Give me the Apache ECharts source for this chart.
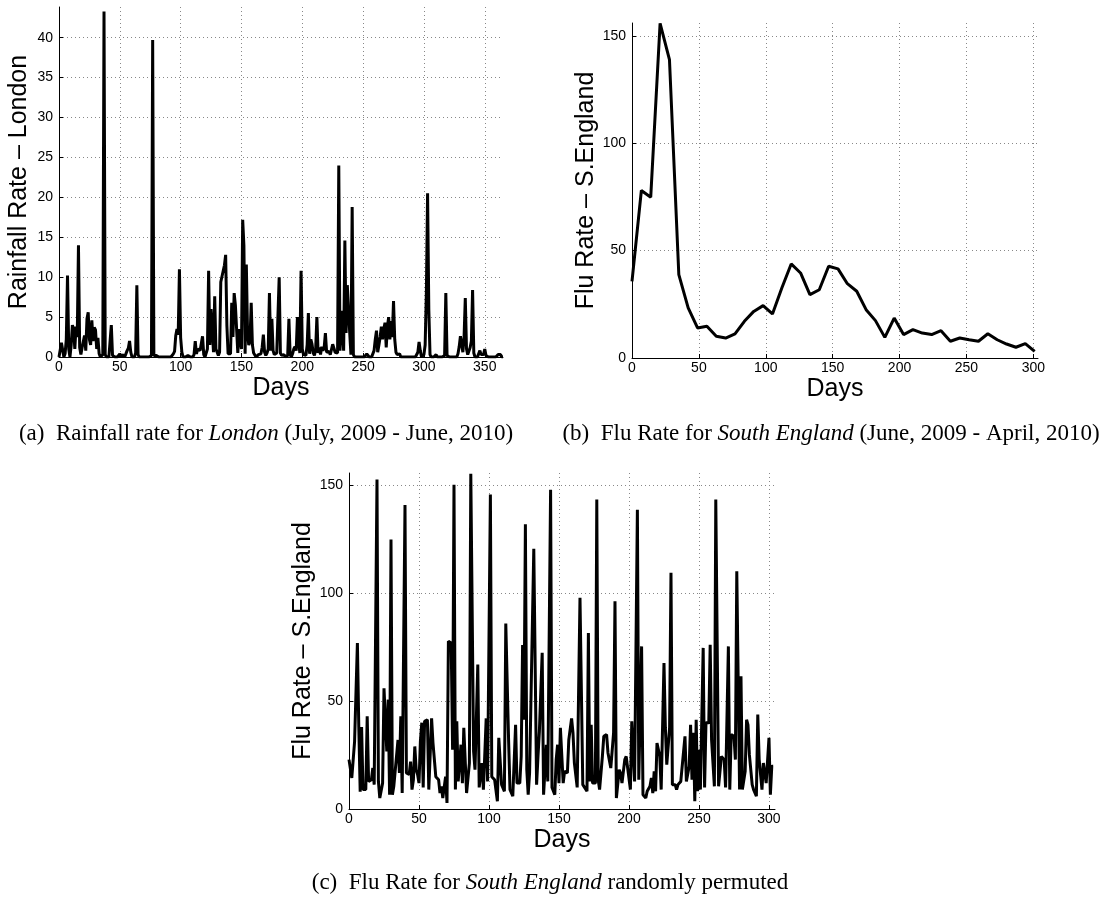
<!DOCTYPE html>
<html>
<head>
<meta charset="utf-8">
<script src="https://cdn.jsdelivr.net/npm/echarts@6/dist/echarts.min.js"></script>
<style>
  html, body { margin: 0; padding: 0; background: #fff; }
  #chart { width: 1106px; height: 897px; }
</style>
</head>
<body>
<div id="chart"></div>
<script>
// (a) daily rainfall, London, day 0..365
const rainVals = [
  0, 0.2, 1.8, 1.6, 0, 0.4, 2.2, 10.2, 1, 0,
  1.5, 4, 3.5, 1, 3.8, 2.5, 14, 1.2, 0.3, 1.2,
  1.1, 2.7, 0.8, 4.8, 5.6, 2.2, 1.5, 4.6, 2, 3.7,
  3.4, 1, 2.4, 0.4, 0, 0, 0.3, 43.3, 0.3, 0,
  0, 0, 0.2, 4, 0.2, 0, 0, 0, 0, 0,
  0.4, 0, 0.3, 0.2, 0, 0, 0.8, 1.1, 2, 0.6,
  0, 0, 0, 0.5, 9, 0.3, 0, 0, 0, 0,
  0, 0, 0, 0, 0, 0, 0.2, 39.7, 0.2, 0,
  0.2, 0.2, 0, 0, 0, 0, 0, 0, 0, 0,
  0, 0, 0, 0, 0.4, 0.7, 2.7, 3.5, 2.8, 11,
  2.4, 0.6, 0, 0, 0, 0.2, 0.2, 0, 0, 0,
  0, 0.3, 2, 0.4, 1, 1.2, 0.8, 1, 2.6, 0.3,
  0, 0.2, 1, 10.8, 1.5, 6, 3.5, 0.6, 7.6, 1,
  0.8, 0.2, 0.6, 9.4, 9.2, 10.8, 11.5, 12.8, 4, 0.4,
  0.2, 0.4, 6.8, 2.5, 8, 6.5, 3.5, 0.5, 3.5, 3.4,
  1, 17.2, 14, 0.4, 11.6, 3, 1.5, 2, 6.8, 1.5,
  0.5, 0.3, 0, 0, 0.3, 0.5, 0.4, 1.2, 2.8, 0.6,
  0.2, 0.5, 1, 8, 0.8, 4.8, 0.8, 0.3, 0.2, 0.5,
  0.3, 10, 0.5, 0.2, 0, 0.3, 0, 0, 0.2, 4.8,
  0.3, 0, 0.4, 1, 1.3, 0.8, 5, 2, 0.5, 10.8,
  1, 0.3, 0.5, 0.2, 1.5, 5.5, 0.4, 2.2, 1.6, 0.5,
  0.2, 1, 5, 0.5, 1.2, 0.3, 1.3, 0.8, 1.2, 3,
  0.6, 0.4, 0.7, 0.3, 0.2, 1.6, 1.4, 0.6, 0.8, 0.5,
  24, 0.8, 5.8, 3, 0.8, 14.6, 3, 9, 8.8, 3,
  0.3, 18.8, 0.3, 0, 0, 0, 0, 0, 0, 0,
  0, 0, 0.2, 0.4, 0.2, 0, 0, 0, 0, 0.8,
  2.2, 3.3, 0.6, 1.5, 2.5, 3.8, 2.2, 3.5, 4.3, 1.2,
  3.8, 5, 2.2, 4.5, 2.5, 7, 2.2, 0.6, 0.3, 0.5,
  0.4, 0, 0, 0, 0, 0, 0, 0, 0, 0,
  0, 0, 0, 0, 0, 0.6, 1.9, 0.8, 0, 0.2,
  0.3, 1.5, 8, 20.5, 6, 0.3, 0, 0, 0, 0.2,
  0.3, 0, 0, 0, 0, 0, 0, 0.2, 8, 0.2,
  0, 0, 0, 0, 0, 0, 0, 0, 0.4, 1.3,
  2.6, 2.8, 0.6, 2.5, 7.4, 1, 0.3, 0.3, 1.2, 2,
  8.4, 0.5, 0, 0, 0, 0, 0.8, 0.3, 0.2, 0.3,
  1, 0.2, 0, 0, 0, 0, 0, 0, 0, 0,
  0, 0.3, 0.5, 0.3, 0, 0
];

// (b) weekly flu rate, South England
const fluDays = [0, 7, 14, 21, 28, 35, 42, 49, 56, 63, 70, 77, 84, 91, 98, 105, 112, 119, 126, 133, 140, 147,
  154, 161, 168, 175, 182, 189, 196, 203, 210, 217, 224, 231, 238, 245, 252, 259, 266, 273, 280, 287, 294, 301];
const fluVals = [35.7, 78, 74.9, 155.8, 139, 38.8, 23.3, 14, 14.8, 10.1, 9.3, 11.2, 17.1, 21.7, 24.4, 20.5, 32.6, 43.8, 39.6, 29.5, 31.8, 42.7,
  41.5, 34.6, 31.1, 22.5, 17.4, 9.6, 18.6, 10.9, 13.2, 11.6, 10.9, 12.7, 7.8, 9.3, 8.5, 7.8, 11.3, 8.5, 6.5, 5, 6.7, 3.1];

// (c) flu rate randomly permuted
const permDays = [
  0, 2, 4, 5, 6, 7, 8, 9, 10, 12, 13, 14, 16, 17, 18, 20, 21, 22, 24, 25, 27, 28, 29, 30, 31, 32, 33, 35, 36, 37, 38,
  40, 41, 43, 44, 45, 46, 47, 48, 49, 50, 51, 52, 53, 54, 56, 57, 59, 60, 62, 64, 65, 66, 67, 69, 70, 71, 73, 74, 75,
  76, 77, 78, 80, 81, 82, 84, 86, 87, 89, 90, 92, 93, 95, 96, 98, 99, 101, 102, 104, 106, 107, 109, 111, 112, 114, 115,
  117, 119, 120, 122, 123, 124, 125, 126, 127, 128, 129, 130, 132, 134, 135, 136, 137, 138, 139, 141, 142, 144, 145,
  147, 148, 149, 150, 151, 153, 154, 156, 157, 159, 160, 161, 163, 164, 165, 167, 168, 170, 171, 172, 173, 174, 176,
  177, 178, 179, 181, 182, 184, 185, 187, 188, 189, 190, 191, 193, 194, 195, 197, 198, 199, 201, 202, 204, 206, 207,
  209, 210, 212, 213, 215, 216, 217, 218, 219, 220, 222, 223, 225, 226, 227, 229, 230, 231, 233, 234, 235, 237, 238,
  240, 241, 243, 244, 245, 246, 247, 248, 249, 250, 251, 253, 254, 255, 257, 258, 259, 261, 262, 264, 265, 266, 268,
  269, 271, 272, 273, 275, 276, 277, 279, 280, 281, 283, 284, 285, 286, 288, 289, 291, 292, 293, 295, 296, 297, 298,
  300, 301, 302, 303
];
const permVals = [
  22.9, 14.4, 31.4, 32, 77, 38, 8, 38, 9, 9, 43, 12.8, 13.6, 19, 11.3, 152.8, 12.8, 5.1, 12, 56, 26.7, 50.7, 6.6, 125, 6.6, 10.5, 11.3, 32, 16.7, 43, 7.4,
  141, 16.7, 16, 22, 9, 13.6, 29, 18.2, 16, 12, 31.4, 40, 10, 40.7, 41.4, 9, 42, 30.6, 15, 13.6, 7.4, 10.5, 5.1, 15, 2.8, 77.8, 77, 27.5, 150.4,
  9, 40.7, 12.8, 29.8, 12, 37.6, 7.4, 21.3, 155.5, 26.7, 18.2, 67, 10, 21.3, 9, 42, 12.8, 145.8, 15, 13.6, 3.6, 33, 11.3, 8.2, 86, 32, 9,
  5.9, 39, 12, 12, 24.4, 76, 41.4, 132, 18.2, 6.6, 16.7, 16.7, 120.7, 11.3, 24.4, 36, 35.3, 72.4, 6.6, 29.8, 12.8, 148, 10,
  6.6, 22.9, 29.8, 12, 37.6, 12, 17.5, 16.7, 32, 42, 35.3, 21.3, 10, 10, 97.9, 11.3, 12, 8.2, 81.6, 12.8, 39, 12, 12,
  143.5, 13.6, 9, 24.4, 33.7, 34.5, 26, 19, 19, 35.3, 96.3, 5.1, 18.2, 16.7, 12, 22.9, 24.4, 24.4, 9, 40.7, 12.8, 138.8, 13.6,
  75.4, 6.6, 5.1, 8.2, 10.5, 14.4, 7.4, 17.5, 8.2, 30.6, 24.4, 9, 67.7, 37.6, 20.6, 37.6, 109.5, 11.3, 11.3, 9, 11.3, 12.8, 12.8,
  33.7, 12.8, 19.8, 39, 13.6, 35.3, 3.6, 41.4, 8.2, 27.5, 9, 74.7, 10, 40, 40, 76.2, 32, 10.5, 143.5, 10.5, 10.5, 24.4, 22.9,
  10, 75.4, 9, 34.5, 33.7, 22.9, 110.2, 9, 61.5, 9, 17.5, 41.4, 39, 25.2, 11.3, 9, 5.9, 43.8, 22.9, 9, 21.3, 22, 12,
  33, 6.6, 19.8, 19.8
];

const sans = 'Liberation Sans, Arial, Helvetica, sans-serif';
const serif = 'Liberation Serif, Times New Roman, serif';

function xAxisFor(gridIndex, max) {
  return {
    type: 'value', gridIndex: gridIndex, min: 0, max: max, interval: 50,
    name: 'Days', nameLocation: 'middle', nameGap: 19,
    nameTextStyle: { fontFamily: sans, fontSize: 25, color: '#000' },
    axisLine: { show: true, onZero: false, lineStyle: { color: '#000', width: 1 } },
    axisTick: { show: true, inside: true, length: 4, lineStyle: { color: '#000' } },
    axisLabel: { fontFamily: sans, fontSize: 14, color: '#000', margin: 3, showMaxLabel: false },
    splitLine: { show: true, showMaxLine: false, lineStyle: { color: '#888', width: 1, type: [1, 3] } }
  };
}

function yAxisFor(gridIndex, max, interval, name) {
  return {
    type: 'value', gridIndex: gridIndex, min: 0, max: max, interval: interval,
    name: name, nameLocation: 'middle', nameGap: 27,
    nameTextStyle: { fontFamily: sans, fontSize: 25, color: '#000' },
    axisLine: { show: true, onZero: false, lineStyle: { color: '#000', width: 1 } },
    axisTick: { show: true, inside: true, length: 4, lineStyle: { color: '#000' } },
    axisLabel: { fontFamily: sans, fontSize: 14, color: '#000', margin: 6, showMaxLabel: false },
    splitLine: { show: true, showMaxLine: false, lineStyle: { color: '#888', width: 1, type: [1, 3] } }
  };
}

function lineSeries(idx, data) {
  return {
    type: 'line', xAxisIndex: idx, yAxisIndex: idx, data: data,
    showSymbol: false, silent: true,
    lineStyle: { color: '#000', width: 3 }
  };
}

function caption(x, y, text) {
  return {
    type: 'text', x: x, y: y,
    style: {
      text: text,
      fontFamily: serif, fontSize: 23, fill: '#000', align: 'center', verticalAlign: 'middle',
      rich: { it: { fontStyle: 'italic', fontFamily: serif, fontSize: 23 } }
    }
  };
}

const chart = echarts.init(document.getElementById('chart'));

chart.setOption({
  animation: false,
  backgroundColor: '#fff',
  grid: [
    { left: 59, top: 7, width: 444, height: 350 },
    { left: 632, top: 23, width: 406, height: 335 },
    { left: 349, top: 473, width: 426, height: 336 }
  ],
  xAxis: [xAxisFor(0, 365), xAxisFor(1, 303.5), xAxisFor(2, 304.3)],
  yAxis: [
    yAxisFor(0, 43.85, 5, 'Rainfall Rate \u2013 London'),
    yAxisFor(1, 156, 50, 'Flu Rate \u2013 S.England'),
    yAxisFor(2, 155.8, 50, 'Flu Rate \u2013 S.England')
  ],
  series: [
    lineSeries(0, rainVals.map((v, i) => [i, v])),
    lineSeries(1, fluDays.map((d, i) => [d, fluVals[i]])),
    lineSeries(2, permDays.map((d, i) => [d, permVals[i]]))
  ],
  graphic: [
    caption(266, 434, '(a)  Rainfall rate for {it|London} (July, 2009 - June, 2010)'),
    caption(831, 434, '(b)  Flu Rate for {it|South England} (June, 2009 - April, 2010)'),
    caption(550, 883, '(c)  Flu Rate for {it|South England} randomly permuted')
  ]
});
</script>
</body>
</html>
